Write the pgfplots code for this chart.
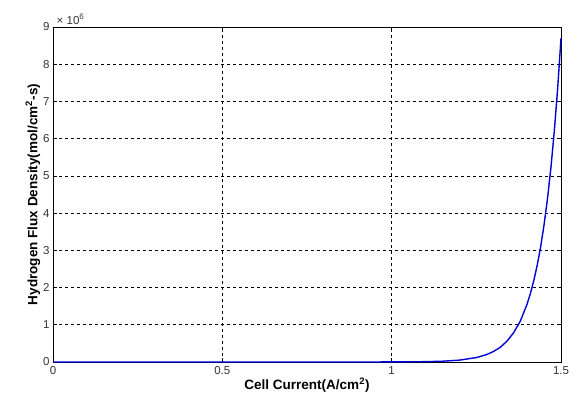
\documentclass[border=0pt]{standalone}
\usepackage{pgfplots}
\pgfplotsset{compat=1.18}
\usepackage{fontspec}
\setmainfont{Liberation Sans}

\begin{document}
\begin{tikzpicture}
  \begin{axis}[
      width=508pt, height=335pt,
      scale only axis,
      xmin=0, xmax=1.5,
      ymin=0, ymax=9,
      xtick={0,0.5,1,1.5},
      ytick={0,1,2,3,4,5,6,7,8,9},
      scaled ticks=false,
      tick align=inside,
      major tick length=4pt,
      grid=major,
      grid style={dashed, black, line width=0.6pt},
      axis line style={black, line width=0.6pt},
      tick style={black, line width=0.6pt},
      ticklabel style={font=\fontsize{11.5}{12}\selectfont, text=black!80},
      /pgf/number format/assume math mode=true,
      xticklabel style={yshift=-1pt},
      xlabel={\textbf{Cell Current(A/cm\textsuperscript{2})}},
      ylabel={\textbf{Hydrogen Flux Density(mol/cm\textsuperscript{2}-s)}},
      label style={font=\fontsize{13.5}{14}\selectfont},
      xlabel style={yshift=4pt},
      ylabel style={yshift=-4pt},
      clip=false,
    ]
    % values in units of 10^6
    \addplot[blue!85!black, line width=1.4pt] coordinates {
      (0,0) (0.5,0.0001) (0.8,0.0003) (1.0,0.0016) (1.1,0.009) (1.15,0.021)
      (1.2,0.05) (1.25,0.119) (1.28,0.198) (1.30,0.28) (1.32,0.39) (1.34,0.555)
      (1.36,0.785) (1.38,1.10) (1.40,1.56) (1.41,1.85) (1.42,2.20) (1.43,2.61)
      (1.44,3.10) (1.45,3.69) (1.46,4.38) (1.47,5.20) (1.48,6.18) (1.49,7.33)
      (1.5,8.7)
    };
    \node[anchor=south west, font=\fontsize{11.5}{12}\selectfont, text=black!80, inner sep=1pt]
      at (axis description cs:0.005,1.005) {× 10\textsuperscript{6}};
    \path (axis description cs:-0.1043,-0.1463) rectangle (axis description cs:1.0374,1.0806);
  \end{axis}
\end{tikzpicture}
\end{document}
